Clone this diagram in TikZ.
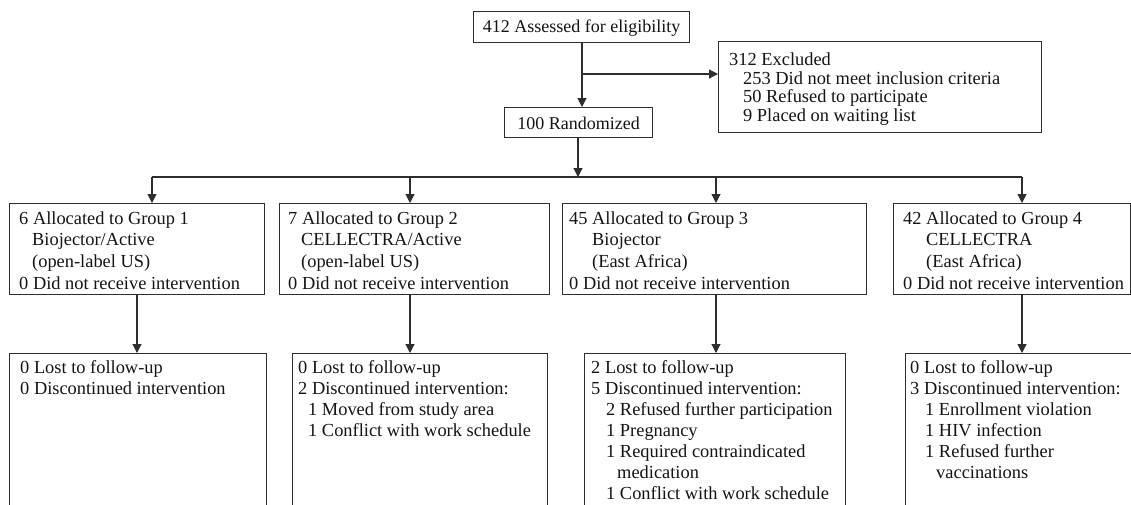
\documentclass[tikz,border=0pt]{standalone}
\usepackage{fontspec}
\setmainfont{Liberation Serif}
\usetikzlibrary{arrows.meta}
\begin{document}
\begin{tikzpicture}[x=1pt,y=-1pt,
  box/.style={draw=black!82, line width=1.1pt, inner sep=0pt, anchor=north west},
  txt/.style={inner sep=0pt, anchor=north west, align=left, text=black!92,
              font=\fontsize{18.4}{21.6}\selectfont},
  txtb/.style={txt, font=\fontsize{18.4}{20.9}\selectfont},
  txtx/.style={txt, font=\fontsize{18.4}{18.6}\selectfont},
  ctxt/.style={inner sep=0pt, text=black!92, font=\fontsize{18}{21.5}\selectfont},
  arr/.style={draw=black!82, line width=1.1pt, -{Triangle[length=9pt,width=9pt]}},
  ln/.style={draw=black!82, line width=1.1pt}]
\useasboundingbox (0,0) rectangle (1131,504);
\clip (0,0) rectangle (1131,504);

% top boxes
\node[box, minimum width=216pt, minimum height=31pt] (a) at (473,11) {};
\node[ctxt] (at) at ([yshift=-1pt]a.center) {412 Assessed for eligibility};
\node[box, minimum width=148pt, minimum height=30pt] (r) at (504,107) {};
\node[ctxt] (rt) at ([yshift=-1pt]r.center) {100 Randomized};
\node[box, minimum width=323pt, minimum height=91pt] (e) at (718,41) {};
\node[txtx] (et) at (729,52.5) {\strut 312 Excluded\\
  \hspace*{14pt}253 Did not meet inclusion criteria\\
  \hspace*{14pt}50 Refused to participate\\
  \hspace*{14pt}9 Placed on waiting list};

% group boxes
\node[box, minimum width=255pt, minimum height=91pt] (g1) at (9,203) {};
\node[box, minimum width=270pt, minimum height=91pt] (g2) at (279,203) {};
\node[box, minimum width=304pt, minimum height=91pt] (g3) at (562,203) {};
\node[box, minimum width=237pt, minimum height=91pt] (g4) at (893,203) {};
\node[txt] (g1t) at (19,209) {\strut 6 Allocated to Group 1\\
  \hspace*{13pt}Biojector/Active\\ \hspace*{13pt}(open-label US)\\ 0 Did not receive intervention};
\node[txt] (g2t) at (288,209) {\strut 7 Allocated to Group 2\\
  \hspace*{13pt}CELLECTRA/Active\\ \hspace*{13pt}(open-label US)\\ 0 Did not receive intervention};
\node[txt] (g3t) at (569,209) {\strut 45 Allocated to Group 3\\
  \hspace*{23pt}Biojector\\ \hspace*{23pt}(East Africa)\\ 0 Did not receive intervention};
\node[txt] (g4t) at (903,209) {\strut 42 Allocated to Group 4\\
  \hspace*{23pt}CELLECTRA\\ \hspace*{23pt}(East Africa)\\ 0 Did not receive intervention};

% bottom boxes (cut by the lower edge)
\node[box, minimum width=257pt, minimum height=175pt] (b1) at (9,353) {};
\node[box, minimum width=255pt, minimum height=175pt] (b2) at (292,353) {};
\node[box, minimum width=261pt, minimum height=175pt] (b3) at (584,353) {};
\node[box, minimum width=240pt, minimum height=175pt] (b4) at (905,353) {};
\node[txtb] (b1t) at (20,359) {\strut 0 Lost to follow-up\\ 0 Discontinued intervention};
\node[txtb] (b2t) at (298,359) {\strut 0 Lost to follow-up\\ 2 Discontinued intervention:\\
  \hspace*{10pt}1 Moved from study area\\ \hspace*{10pt}1 Conflict with work schedule};
\node[txtb] (b3t) at (591,359) {\strut 2 Lost to follow-up\\ 5 Discontinued intervention:\\
  \hspace*{15pt}2 Refused further participation\\ \hspace*{15pt}1 Pregnancy\\
  \hspace*{15pt}1 Required contraindicated\\ \hspace*{26pt}medication\\
  \hspace*{15pt}1 Conflict with work schedule};
\node[txtb] (b4t) at (910,359) {\strut 0 Lost to follow-up\\ 3 Discontinued intervention:\\
  \hspace*{15pt}1 Enrollment violation\\ \hspace*{15pt}1 HIV infection\\
  \hspace*{15pt}1 Refused further\\ \hspace*{26pt}vaccinations};

% connectors
\coordinate (br) at (582,74);
\coordinate (bus) at (578,177);
\coordinate (c1) at (152,177);
\coordinate (c2) at (410,177);
\coordinate (c3) at (716,177);
\coordinate (c4) at (1022,177);
\coordinate (k1) at (137,0);

\draw[arr] (a.south -| br) -- (r.north -| br);
\draw[arr] (br) -- (br -| e.west);
\draw[arr] (r.south -| bus) -- (bus);
\draw[ln] (c1) -- (c4);
\draw[arr] (c1) -- (c1 |- g1.north);
\draw[arr] (c2) -- (c2 |- g2.north);
\draw[arr] (c3) -- (c3 |- g3.north);
\draw[arr] (c4) -- (c4 |- g4.north);
\draw[arr] (g1.south -| k1) -- (b1.north -| k1);
\draw[arr] (g2.south -| c2) -- (b2.north -| c2);
\draw[arr] (g3.south -| c3) -- (b3.north -| c3);
\draw[arr] (g4.south -| c4) -- (b4.north -| c4);
\end{tikzpicture}
\end{document}
